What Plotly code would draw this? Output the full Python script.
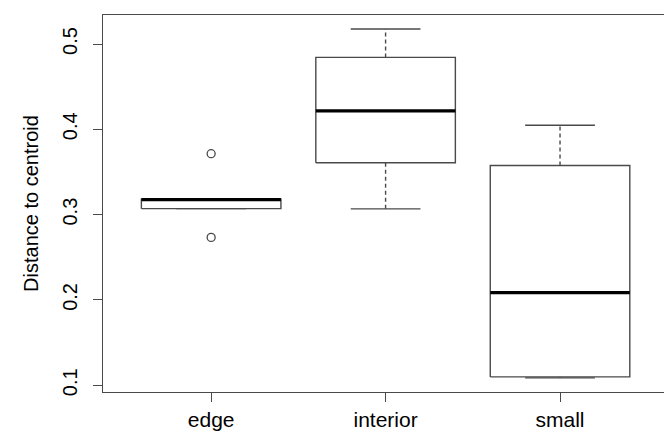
import plotly.graph_objects as go

groups = ["edge", "interior", "small"]
positions = [1, 2, 3]
lower_whisker = [0.307, 0.3067, 0.1086]
q1 = [0.307, 0.3608, 0.1098]
median = [0.3176, 0.4216, 0.2086]
q3 = [0.318, 0.4843, 0.3576]
upper_whisker = [0.318, 0.5176, 0.4047]
outlier_group = [1, 1]
outlier_values = [0.3714, 0.2733]

y_ticks = [0.1, 0.2, 0.3, 0.4, 0.5]
y_title = "Distance to centroid"

box_half = 0.4
cap_half = 0.2
line_col = "#4a4a4a"

box_x, box_y = [], []
med_x, med_y = [], []
wh_x, wh_y = [], []
cap_x, cap_y = [], []
for p, lo, a, m, b, hi in zip(positions, lower_whisker, q1, median, q3, upper_whisker):
    box_x += [p - box_half, p + box_half, p + box_half, p - box_half, p - box_half, None]
    box_y += [a, a, b, b, a, None]
    med_x += [p - box_half, p + box_half, None]
    med_y += [m, m, None]
    wh_x += [p, p, None, p, p, None]
    wh_y += [b, hi, None, a, lo, None]
    cap_x += [p - cap_half, p + cap_half, None, p - cap_half, p + cap_half, None]
    cap_y += [hi, hi, None, lo, lo, None]

fig = go.Figure()
fig.add_trace(go.Scatter(x=wh_x, y=wh_y, mode="lines",
                         line=dict(color=line_col, width=1.4, dash="4px,3px"),
                         hoverinfo="skip", showlegend=False))
fig.add_trace(go.Scatter(x=cap_x, y=cap_y, mode="lines",
                         line=dict(color=line_col, width=1.4),
                         hoverinfo="skip", showlegend=False))
fig.add_trace(go.Scatter(x=box_x, y=box_y, mode="lines",
                         line=dict(color=line_col, width=1.4),
                         hoverinfo="skip", showlegend=False))
fig.add_trace(go.Scatter(x=med_x, y=med_y, mode="lines",
                         line=dict(color="black", width=3.2),
                         hoverinfo="skip", showlegend=False))
fig.add_trace(go.Scatter(x=outlier_group, y=outlier_values, mode="markers",
                         marker=dict(symbol="circle-open", size=8, color=line_col,
                                     line=dict(width=1.3, color=line_col)),
                         hoverinfo="skip", showlegend=False))

fig.update_layout(
    width=664, height=432,
    margin=dict(l=103, r=0, t=15, b=40),
    paper_bgcolor="white", plot_bgcolor="white",
    font=dict(family="Liberation Sans, Arial, sans-serif", color="black"),
    xaxis=dict(range=[0.38, 3.596], tickvals=positions, ticktext=groups,
               automargin=False,
               showgrid=False, zeroline=False, showline=True, mirror=True,
               linecolor=line_col, linewidth=1.4,
               ticks="outside", ticklen=9, tickwidth=1.4, tickcolor=line_col,
               tickfont=dict(size=21), ticklabelstandoff=0),
    yaxis=dict(range=[0.0921, 0.534], tickvals=y_ticks,
               ticktext=[f"{v:.1f}" for v in y_ticks],
               automargin=False,
               showgrid=False, zeroline=False, showline=True, mirror=False,
               linecolor=line_col, linewidth=1.4,
               ticks="outside", ticklen=9, tickwidth=1.4, tickcolor=line_col,
               tickangle=-90, tickfont=dict(size=20), ticklabelstandoff=8,
               title=dict(text=y_title, font=dict(size=20), standoff=14)),
)

fig.write_html("out.html", config={"displayModeBar": False},
               post_script="document.body.style.margin='0';")
